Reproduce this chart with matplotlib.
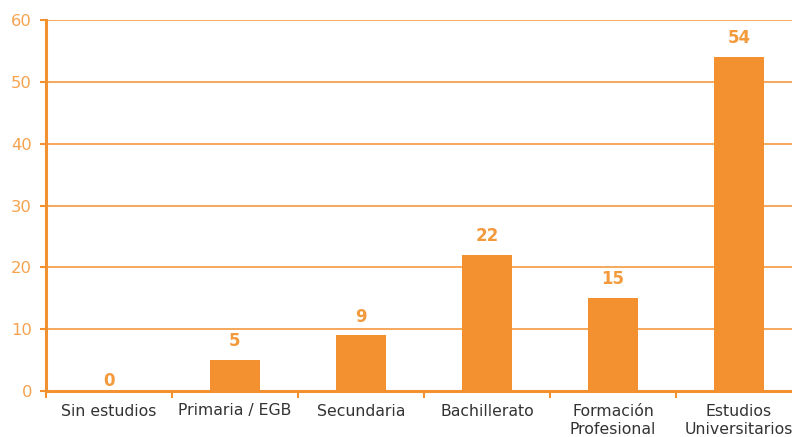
import matplotlib
matplotlib.use("Agg")
import matplotlib.pyplot as plt
import numpy as np

categories = ["Sin estudios", "Primaria / EGB", "Secundaria", "Bachillerato",
              "Formación\nProfesional", "Estudios\nUniversitarios"]
values = [0, 5, 9, 22, 15, 54]
yticks = [0, 10, 20, 30, 40, 50, 60]

bar_color = "#F39130"
axis_color = "#F39130"
tick_text = "#F6A24E"
label_text = "#333333"

fig = plt.figure(figsize=(7.92, 4.37), dpi=100)
ax = fig.add_axes([46 / 792, 46 / 437, 756 / 792, 371 / 437])

x = np.arange(len(categories))
ax.bar(x, values, width=0.4, color=bar_color, zorder=3)

for xi, v in zip(x, values):
    offset = 13.5 if v > 0 else 7
    ax.annotate(str(v), (xi, v), xytext=(0, offset), textcoords="offset points",
                ha="center", va="center", fontsize=12, fontweight="bold",
                color="#F39A3C")

ax.set_xlim(-0.5, len(categories) - 0.5)
ax.set_ylim(0, 60)
ax.set_yticks(yticks)
ax.yaxis.grid(True, color=axis_color, linewidth=1.1, zorder=0)
ax.set_axisbelow(True)

ax.set_xticks(x)
ax.set_xticklabels(categories, fontsize=11.3, color=label_text, linespacing=1.3)
ax.set_xticks(np.arange(len(categories) + 1) - 0.5, minor=True)
ax.tick_params(axis="x", which="major", length=0, pad=9)
ax.tick_params(axis="x", which="minor", length=5, width=1.5, color=axis_color)
ax.tick_params(axis="y", length=4, width=1.5, color=axis_color,
               labelcolor=tick_text, labelsize=11.8, pad=6)

for side in ("top", "right"):
    ax.spines[side].set_visible(False)
for side in ("left", "bottom"):
    ax.spines[side].set_color(axis_color)
    ax.spines[side].set_linewidth(2.2)

fig.savefig("out.png", dpi=100)
